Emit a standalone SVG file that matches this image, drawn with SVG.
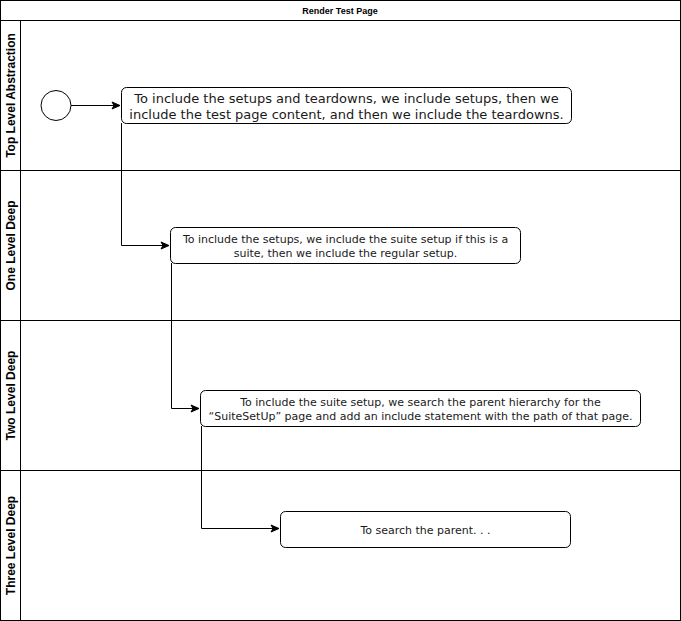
<svg xmlns="http://www.w3.org/2000/svg" width="681" height="621" viewBox="0 0 681 621">
<style>
.frame{fill:#fff;stroke:#000;stroke-width:1}
.node{fill:#fff;stroke:#000;stroke-width:1}
.t{font-family:"DejaVu Sans",Verdana,sans-serif;fill:#1a1a1a;text-anchor:middle}
.lane{font-family:"Liberation Sans",Arial,sans-serif;font-weight:bold;font-size:12px;text-anchor:middle;fill:#000}
.edge{fill:none;stroke:#000;stroke-width:1}
</style>
<defs>
<marker id="arr" markerWidth="10" markerHeight="10" refX="9" refY="5" orient="auto" markerUnits="userSpaceOnUse">
<path d="M1,1.5 L9,5 L1,8.5 L3,5 Z" fill="#000" stroke="#000" stroke-width="1"/>
</marker>
</defs>
<g id="pool">
<rect class="frame" x="0.5" y="0.5" width="680" height="620"/>
<line x1="0.5" y1="20.5" x2="680.5" y2="20.5" stroke="#000"/>
<text x="340" y="13.5" font-family="Liberation Sans,Arial,sans-serif" font-size="9px" font-weight="bold" text-anchor="middle">Render Test Page</text>
</g>
<g id="lane1">
<rect class="frame" x="0.5" y="20.5" width="680" height="150"/>
<line x1="20.5" y1="20.5" x2="20.5" y2="170.5" stroke="#000"/>
<text class="lane" transform="translate(14.5,95.5) rotate(-90)">Top Level Abstraction</text>
</g>
<g id="lane2">
<rect class="frame" x="0.5" y="170.5" width="680" height="150"/>
<line x1="20.5" y1="170.5" x2="20.5" y2="320.5" stroke="#000"/>
<text class="lane" transform="translate(14.5,245.5) rotate(-90)">One Level Deep</text>
</g>
<g id="lane3">
<rect class="frame" x="0.5" y="320.5" width="680" height="150"/>
<line x1="20.5" y1="320.5" x2="20.5" y2="470.5" stroke="#000"/>
<text class="lane" transform="translate(14.5,395.5) rotate(-90)">Two Level Deep</text>
</g>
<g id="lane4">
<rect class="frame" x="0.5" y="470.5" width="680" height="150"/>
<line x1="20.5" y1="470.5" x2="20.5" y2="620.5" stroke="#000"/>
<text class="lane" transform="translate(14.5,545.5) rotate(-90)">Three Level Deep</text>
</g>
<g id="connectors">
<path class="edge" d="M71,105.5 H120" marker-end="url(#arr)"/>
<path class="edge" d="M121.5,123 V245.5 H169" marker-end="url(#arr)"/>
<path class="edge" d="M171.5,263 V408.5 H199" marker-end="url(#arr)"/>
<path class="edge" d="M201.5,426 V528.5 H279" marker-end="url(#arr)"/>
</g>
<g id="start">
<circle class="node" cx="56" cy="105.5" r="15"/>
</g>
<g id="n1">
<rect class="node" x="121.5" y="87.5" width="450" height="36" rx="5"/>
<text class="t" font-size="13px" x="346.5" y="103">To include the setups and teardowns, we include setups, then we</text>
<text class="t" font-size="13px" x="346.5" y="119">include the test page content, and then we include the teardowns.</text>
</g>
<g id="n2">
<rect class="node" x="170.5" y="227.5" width="350" height="36" rx="5"/>
<text class="t" font-size="11px" x="345.5" y="243">To include the setups, we include the suite setup if this is a</text>
<text class="t" font-size="11px" x="345.5" y="257">suite, then we include the regular setup.</text>
</g>
<g id="n3">
<rect class="node" x="200.5" y="390.5" width="440" height="36" rx="5"/>
<text class="t" font-size="11px" x="420.5" y="406">To include the suite setup, we search the parent hierarchy for the</text>
<text class="t" font-size="11px" x="420.5" y="420">“SuiteSetUp” page and add an include statement with the path of that page.</text>
</g>
<g id="n4">
<rect class="node" x="280.5" y="511.5" width="290" height="36" rx="5"/>
<text class="t" font-size="11px" x="425.5" y="533.5">To search the parent. . .</text>
</g>
</svg>
